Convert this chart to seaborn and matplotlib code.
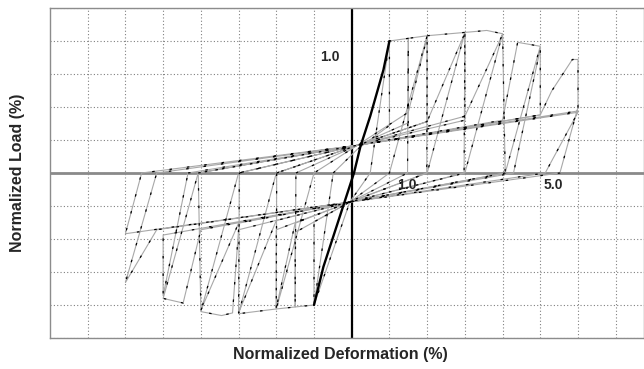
import numpy as np
import pandas as pd
import matplotlib
matplotlib.use("Agg")
import matplotlib.pyplot as plt
import seaborn as sns

# ---- data (normalized deformation, normalized load) ----
thick_x = [-1.0, -0.75, 0.06, 0.23, 0.49, 0.84, 1.0]
thick_y = [-1.0, -0.71, 0.0, 0.2, 0.43, 0.78, 1.0]

amp1_x = [1.0, 0.49, -0.05, -1.0, -0.49]
amp1_y = [1.0, 0.0, -0.22, -1.0, 0.0]

amp15_x = [-0.49, 0.15, 1.0, 1.0, 1.5, 1.48, -0.05, -1.0, -1.0, -1.5, -1.48]
amp15_y = [0.0, 0.18, 0.36, 1.0, 1.02, 0.0, -0.22, -0.37, -1.0, -1.015, 0.0]

amp2_x = [-1.48, 0.15, 1.5, 1.5, 2.0, 1.0, -0.05, -1.5, -1.5, -2.0, -1.0,
          0.15, 1.5, 2.0, 1.99, -0.05, -1.5, -2.0, -1.99]
amp2_y = [0.0, 0.21, 0.38, 1.02, 1.04, 0.0, -0.22, -0.45, -1.015, -1.03, 0.0,
          0.21, 0.46, 1.03, 0.0, -0.22, -0.38, -1.02, 0.0]

amp3_x = [-1.99, 0.15, 2.0, 2.0, 3.0, 2.0, -0.05, -2.0, -2.0, -3.0, -2.0,
          0.15, 2.0, 3.0, 2.98, -0.05, -2.0, -3.0, -2.98]
amp3_y = [0.0, 0.21, 0.39, 1.04, 1.065, 0.0, -0.22, -0.43, -1.03, -1.066, 0.0,
          0.21, 0.39, 1.06, 0.0, -0.22, -0.36, -1.06, 0.0]

amp4_x = [-2.98, 0.15, 3.0, 3.0, 3.2, 3.58, 4.0, 3.0, -0.05, -3.0, -3.16, -3.45, -4.0, -3.0,
          0.15, 3.0, 4.0, 4.07, -0.05, -3.0, -4.0, -4.07]
amp4_y = [0.0, 0.21, 0.40, 1.065, 1.07, 1.08, 1.055, 0.0, -0.22, -0.43, -1.06, -1.08, -1.05, 0.0,
          0.21, 0.43, 1.05, 0.0, -0.22, -0.38, -1.04, 0.0]

amp5_x = [-4.07, 0.15, 4.0, 4.4, 5.0, 4.07, -0.05, -4.0, -4.47, -5.0, -4.07,
          0.15, 5.0, 5.0, 4.29, -0.05, -5.0, -5.0, -4.34]
amp5_y = [0.0, 0.21, 0.40, 0.99, 0.96, 0.0, -0.22, -0.43, -0.985, -0.95, 0.0,
          0.21, 0.44, 0.94, 0.0, -0.22, -0.47, -0.93, 0.0]

amp6_x = [-4.34, 0.15, 5.0, 5.3, 5.85, 6.0, 6.0, 5.52, -0.05, -5.17, -6.0, -5.17,
          0.15, 6.0, 5.13, -0.05, -6.0, -5.57, 0.15, 6.0]
amp6_y = [0.0, 0.21, 0.44, 0.62, 0.86, 0.86, 0.50, 0.0, -0.22, -0.43, -0.83, 0.0,
          0.21, 0.46, 0.0, -0.22, -0.46, 0.0, 0.21, 0.47]

annotations = [("1.0", -0.58, 0.88), ("1.0", 1.46, -0.09), ("5.0", 5.35, -0.09)]
x_label = "Normalized Deformation (%)"
y_label = "Normalized Load (%)"

# ---- plotting ----
sns.set_theme(style="white")
plt.rcParams['font.family'] = ['Liberation Sans', 'DejaVu Sans']

fig = plt.figure(figsize=(6.44, 3.69), dpi=100)
ax = fig.add_axes([50/644, 31/369, 594/644, 330/369])

ax.set_xlim(-8, 7.75)
ax.set_ylim(-1.25, 1.25)

ax.set_xticks(np.arange(-7, 8, 1))
ax.set_yticks(np.arange(-1.25, 1.26, 0.25))
ax.grid(True, color='#808080', linestyle=(0, (1, 2)), linewidth=0.8)
ax.tick_params(left=False, bottom=False, labelleft=False, labelbottom=False)
for s in ax.spines.values():
    s.set_color('#8c8c8c')
    s.set_linewidth(1.0)

ax.axhline(0, color='#8a8a8a', lw=2.0, zorder=2)
ax.axvline(0, color='black', lw=1.6, zorder=2)

paths = [(amp1_x, amp1_y), (amp15_x, amp15_y), (amp2_x, amp2_y), (amp3_x, amp3_y),
         (amp4_x, amp4_y), (amp5_x, amp5_y), (amp6_x, amp6_y)]
for px, py in paths:
    df = pd.DataFrame({"x": px, "y": py})
    sns.lineplot(data=df, x="x", y="y", sort=False, estimator=None, ax=ax,
                 color='#a8a8a8', lw=0.8, zorder=3)
    sns.lineplot(data=df, x="x", y="y", sort=False, estimator=None, ax=ax,
                 color='black', lw=0.9, linestyle=(0, (2, 12)), zorder=4)

dft = pd.DataFrame({"x": thick_x, "y": thick_y})
sns.lineplot(data=dft, x="x", y="y", sort=False, estimator=None, ax=ax,
             color='black', lw=1.7, zorder=5)

for txt, tx, ty in annotations:
    ax.text(tx, ty, txt, fontsize=10, fontweight='bold', ha='center', va='center', zorder=6)

ax.set_xlabel("")
ax.set_ylabel("")
fig.text(340/644, 1 - 355/369, x_label, fontsize=11.5, fontweight='bold', ha='center', va='center')
fig.text(18/644, 1 - 173/369, y_label, fontsize=11.5, fontweight='bold', ha='center', va='center',
         rotation=90)

fig.savefig("out.png", dpi=100)
